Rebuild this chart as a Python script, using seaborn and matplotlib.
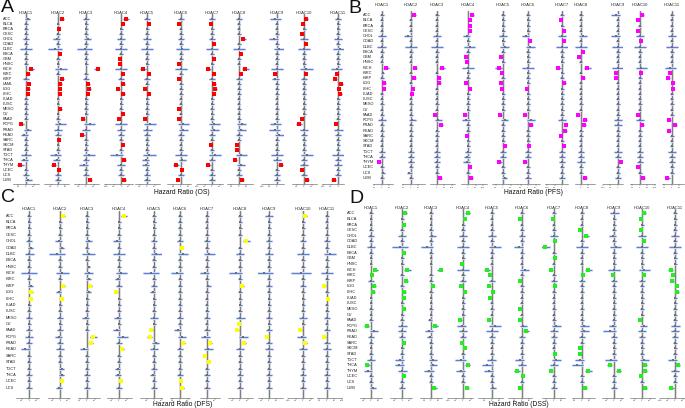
import numpy as np
import pandas as pd
import matplotlib
matplotlib.use("Agg")
import matplotlib.pyplot as plt
import seaborn as sns
from matplotlib.transforms import blended_transform_factory
from matplotlib.ticker import NullLocator

GENES = ["HDAC1", "HDAC2", "HDAC3", "HDAC4", "HDAC5", "HDAC6",
         "HDAC7", "HDAC8", "HDAC9", "HDAC10", "HDAC11"]

CANCERS_OS = ["ACC", "BLCA", "BRCA", "CESC", "CHOL", "COAD", "DLBC", "ESCA", "GBM", "HNSC",
              "KICH", "KIRC", "KIRP", "LAML", "LGG", "LIHC", "LUAD", "LUSC", "MESO", "OV",
              "PAAD", "PCPG", "PRAD", "READ", "SARC", "SKCM", "STAD", "TGCT", "THCA", "THYM",
              "UCEC", "UCS", "UVM"]
CANCERS_PFS = ["ACC", "BLCA", "BRCA", "CESC", "CHOL", "COAD", "DLBC", "ESCA", "GBM", "HNSC",
               "KICH", "KIRC", "KIRP", "LGG", "LIHC", "LUAD", "LUSC", "MESO", "OV", "PAAD",
               "PCPG", "PRAD", "READ", "SARC", "SKCM", "STAD", "TGCT", "THCA", "THYM", "UCEC",
               "UCS", "UVM"]
CANCERS_DFS = ["ACC", "BLCA", "BRCA", "CESC", "CHOL", "COAD", "DLBC", "ESCA", "HNSC", "KICH",
               "KIRC", "KIRP", "LGG", "LIHC", "LUAD", "LUSC", "MESO", "OV", "PAAD", "PCPG",
               "PRAD", "READ", "SARC", "STAD", "TGCT", "THCA", "UCEC", "UCS"]
CANCERS_DSS = ["ACC", "BLCA", "BRCA", "CESC", "CHOL", "COAD", "DLBC", "ESCA", "GBM", "HNSC",
               "KICH", "KIRC", "KIRP", "LGG", "LIHC", "LUAD", "LUSC", "MESO", "OV", "PAAD",
               "PCPG", "PRAD", "READ", "SARC", "SKCM", "STAD", "TGCT", "THCA", "THYM", "UCEC",
               "UCS", "UVM"]

# log10 hazard ratio (one row per gene HDAC1..HDAC11, one value per cancer)
# and half-width of the 95% CI in log10 units
OS_LOGHR = [
    [.2,0,0,0,0,0,0,0,0,0,.7,.3,0,.35,.3,.25,0,0,0,0,0,-.6,.2,-.2,0,0,0,0,-.2,-.75,0,0,.3],
    [.5,0,.2,0,-.2,0,-.4,.25,0,0,.4,0,.5,.3,.25,.22,0,0,.3,0,0,.3,0,0,.2,0,0,-.3,-.2,-.6,.2,0,0],
    [0,0,0,0,.2,0,-.2,0,0,0,1.6,0,0,.3,.4,.25,0,0,0,0,-.4,.5,0,-.5,0,0,0,.4,0,-.3,0,0,.5],
    [.7,.25,0,0,0,0,0,0,-.2,-.2,0,.25,0,.3,-.35,.3,0,0,0,.2,-.3,0,0,0,0,.2,0,-.6,.4,0,0,0,.4],
    [0,.2,0,0,0,0,0,0,0,0,-.6,.2,0,0,-.3,.2,0,0,0,0,-.3,.4,0,0,0,0,0,.3,-.2,-.2,0,0,0],
    [0,-.2,0,0,0,0,.2,0,0,-.2,0,0,-.25,0,0,0,0,0,-.3,0,-.3,.3,.3,0,0,0,0,0,.2,-.7,.2,0,-.4],
    [0,-.2,0,0,0,.25,0,0,.25,0,-.5,.2,0,.3,.4,.2,0,0,0,0,0,.3,.3,0,0,-.2,0,.4,0,-.5,0,0,0],
    [0,0,0,0,.6,0,0,.25,0,0,.85,.25,0,0,0,0,0,0,0,0,0,.4,.3,0,0,-.2,-.2,.3,-.5,.3,0,0,.4],
    [-.2,0,0,0,-.4,0,.3,0,0,0,0,-.2,-.2,0,0,0,0,0,0,0,0,-.2,-.3,.3,0,0,0,0,0,.5,0,0,0],
    [.3,-.2,0,-.3,0,.2,0,0,0,0,.3,.2,0,0,0,0,0,0,0,0,-.3,-.7,0,0,0,0,0,.4,0,0,-.25,0,.4],
    [0,0,0,0,0,0,.2,0,0,0,-.2,-.15,-.4,.4,.15,.3,0,0,0,0,0,-.3,0,0,0,0,0,0,0,0,0,0,-.6],
]
OS_CI = [
    [.35,.2,.2,.25,.45,.28,.75,.28,.25,.2,.4,.18,.45,.2,.18,.15,.2,.2,.3,.2,.28,.35,.5,.4,.28,.2,.25,.6,.4,.45,.3,.35,.45],
    [.3,.2,.12,.25,.5,.28,.95,.15,.25,.2,.75,.25,.3,.18,.15,.13,.2,.2,.18,.2,.28,.75,.6,.4,.12,.2,.25,.75,.45,.35,.12,.35,.4],
    [.4,.2,.2,.25,.5,.28,.95,.28,.25,.2,.6,.25,.4,.18,.25,.15,.2,.2,.3,.2,.25,.75,.5,.3,.28,.2,.25,.75,.4,.6,.28,.35,.3],
    [.4,.15,.2,.25,.5,.28,.85,.28,.12,.12,.75,.15,.45,.18,.2,.18,.2,.2,.3,.12,.18,.75,.5,.4,.28,.12,.25,.85,.25,.5,.28,.35,.25],
    [.4,.12,.2,.25,.5,.28,.85,.28,.25,.2,.4,.12,.4,.28,.18,.12,.2,.2,.3,.2,.18,.75,.6,.4,.28,.2,.25,.85,.5,.5,.28,.35,.4],
    [.35,.12,.2,.25,.45,.28,.85,.28,.25,.12,.85,.25,.15,.28,.25,.22,.2,.2,.18,.2,.18,.75,.6,.4,.28,.2,.25,.75,.45,.4,.12,.35,.25],
    [.35,.12,.2,.25,.45,.15,.85,.28,.15,.2,.3,.12,.4,.18,.25,.12,.2,.2,.3,.2,.28,.75,.6,.4,.28,.12,.25,.75,.4,.3,.28,.35,.4],
    [.35,.2,.2,.25,.35,.28,.75,.15,.25,.2,.45,.15,.4,.28,.25,.22,.2,.2,.3,.2,.28,.6,.6,.4,.28,.12,.12,.75,.3,.5,.28,.35,.25],
    [.75,.2,.2,.25,.6,.28,.75,.28,.25,.2,.75,.12,.45,.28,.25,.22,.2,.2,.3,.2,.28,.75,.75,.6,.28,.2,.25,.75,.5,.3,.28,.35,.4],
    [.18,.12,.2,.18,.5,.12,.75,.28,.25,.2,.85,.12,.4,.28,.25,.22,.2,.2,.3,.2,.18,.4,.5,.4,.28,.2,.25,.75,.45,.5,.15,.35,.25],
    [.35,.2,.2,.25,.5,.28,.85,.28,.25,.2,.75,.1,.25,.25,.1,.18,.2,.2,.3,.2,.28,.18,.6,.4,.28,.2,.25,.75,.45,.5,.28,.35,.35],
]

PFS_LOGHR = [
    [0,0,0,0,0,0,0,0,0,0,.6,.12,0,.3,.25,0,0,0,0,0,0,0,0,0,0,0,0,0,-.4,0,.12,0],
    [.4,0,0,0,-.4,0,0,0,0,0,.5,0,.4,0,.25,.2,0,0,0,0,.2,0,0,0,0,0,0,0,0,0,-.2,0],
    [0,0,0,0,0,0,0,0,0,0,.7,0,.3,.3,0,0,0,0,0,-.3,.2,.5,0,0,0,0,0,0,0,0,0,.4],
    [.5,.2,.2,.2,-.2,0,.2,0,-.25,-.2,0,0,0,-.3,.2,0,0,0,0,-.4,-.3,0,0,-.2,0,0,0,-.2,-.2,.2,0,.4],
    [0,0,0,0,0,0,.2,0,-.25,0,-.6,-.2,0,-.3,-.2,0,0,0,0,-.4,.2,0,0,0,0,.2,0,0,-.5,0,0,.2],
    [0,0,0,0,-.3,.22,.3,0,0,0,0,0,0,0,-.15,0,0,0,0,-.35,.4,.4,0,0,0,.15,0,0,-.4,0,0,0],
    [0,-.2,0,.25,0,.25,0,0,0,0,-.5,0,0,.3,0,0,0,0,0,0,0,.5,.4,-.2,0,.2,0,0,0,0,0,0],
    [0,0,0,0,.3,0,0,.25,-.3,0,.85,0,.3,0,0,0,0,0,0,-.4,.5,.4,0,0,0,0,0,0,0,0,0,.5],
    [-.3,0,0,0,-.3,0,0,0,0,0,0,-.2,-.3,0,0,0,0,0,0,0,0,0,0,0,0,0,0,0,.4,0,0,0],
    [.3,-.2,0,-.2,0,.2,0,0,0,0,.2,.2,0,0,0,0,0,0,0,-.3,0,.3,0,0,0,0,0,0,0,-.2,0,.4],
    [0,0,0,0,0,0,0,0,0,0,-.2,-.3,-.5,.2,.2,0,0,0,0,0,-.4,.4,-.4,0,0,0,0,0,0,0,0,-.6],
]
PFS_CI = [
    [.28,.2,.2,.2,.5,.2,.6,.22,.2,.2,.4,.2,.3,.18,.15,.2,.2,.25,.2,.25,.5,.28,.3,.22,.2,.2,.35,.35,.25,.22,.3,.3],
    [.25,.2,.2,.2,.55,.2,.75,.22,.2,.2,.35,.2,.25,.2,.15,.12,.2,.25,.2,.25,.5,.28,.3,.22,.2,.2,.4,.4,.45,.22,.3,.3],
    [.3,.2,.2,.2,.5,.2,.75,.22,.2,.2,.4,.2,.18,.18,.2,.2,.2,.25,.2,.18,.5,.3,.3,.22,.2,.2,.35,.4,.45,.22,.28,.25],
    [.3,.12,.12,.12,.5,.2,.75,.22,.15,.12,.85,.2,.3,.18,.12,.2,.2,.25,.2,.25,.5,.28,.3,.12,.2,.2,.4,.4,.45,.12,.28,.25],
    [.3,.2,.2,.2,.5,.2,.6,.22,.15,.2,.45,.12,.3,.18,.12,.2,.2,.25,.2,.25,.5,.28,.3,.22,.2,.12,.4,.35,.3,.22,.28,.35],
    [.3,.2,.2,.2,.45,.13,.6,.22,.2,.2,.75,.2,.3,.2,.1,.2,.2,.25,.2,.2,.5,.25,.3,.22,.2,.1,.35,.4,.25,.22,.28,.35],
    [.3,.12,.2,.15,.5,.15,.75,.22,.2,.2,.35,.2,.3,.18,.2,.2,.2,.25,.2,.25,.5,.3,.25,.12,.2,.12,.35,.35,.45,.22,.28,.35],
    [.3,.2,.2,.2,.55,.2,.75,.15,.18,.2,.5,.2,.18,.2,.2,.2,.2,.25,.2,.25,.3,.25,.3,.22,.2,.2,.35,.35,.5,.22,.28,.3],
    [.6,.2,.2,.2,.6,.2,.75,.22,.2,.2,.75,.12,.18,.2,.2,.2,.2,.25,.2,.25,.5,.55,.3,.22,.2,.2,.5,.35,.25,.22,.28,.35],
    [.18,.12,.2,.12,.5,.12,.75,.22,.2,.2,.75,.12,.3,.2,.2,.2,.2,.25,.2,.18,.5,.18,.3,.22,.2,.2,.35,.35,.45,.12,.28,.25],
    [.3,.2,.2,.2,.55,.2,.85,.22,.2,.2,.75,.18,.3,.12,.12,.2,.2,.25,.2,.25,.25,.25,.25,.22,.2,.2,.5,.35,.45,.22,.28,.35],
]

DFS_LOGHR = [
    [0,0,0,0,0,.2,0,0,0,0,0,.2,.3,.2,0,0,0,0,0,0,0,-.5,0,0,0,0,0,0],
    [.4,0,0,0,-.2,.2,-.4,0,0,.3,0,.4,-.2,.2,0,0,0,0,0,-.2,0,0,0,0,.2,.2,.2,-.2],
    [0,0,0,0,.2,0,.2,0,.2,.2,.2,.4,.2,0,0,0,-.2,0,0,.85,.5,-.4,0,0,0,0,0,0],
    [.7,0,0,0,-.3,0,0,0,0,.3,-.2,0,-.4,0,0,0,-.2,0,-.3,.5,0,.4,0,0,-.2,-.2,.2,0],
    [0,0,0,0,0,0,.3,0,0,-.4,0,0,-.2,0,0,0,0,0,-.4,-.6,.2,0,0,0,0,-.2,0,0],
    [0,0,0,0,0,.2,.4,0,0,-.4,0,0,0,0,0,0,0,0,-.3,.3,.4,0,0,0,0,0,.12,.3],
    [0,0,0,0,0,0,.3,0,0,-.3,0,.2,0,0,0,0,0,0,0,-.2,.4,.2,-.2,.25,0,0,0,0],
    [0,0,0,0,.85,0,0,0,0,-.6,0,.3,0,0,0,0,0,-.2,-.4,.4,.5,0,0,0,0,0,0,0],
    [0,0,0,0,0,0,0,0,0,-.7,0,0,0,0,0,0,0,0,0,-.3,0,0,0,0,0,0,0,0],
    [.3,0,0,0,0,0,0,0,0,-.3,0,0,0,0,0,0,0,0,-.4,-.2,.3,0,0,0,0,0,0,0],
    [0,0,0,0,0,0,.4,0,0,0,0,-.4,0,.2,0,0,0,0,0,-.4,0,0,0,0,0,0,0,0],
]
DFS_CI = [
    [.3,.2,.2,.25,.4,.3,.6,.28,.25,1.05,.28,.35,.18,.12,.2,.25,.4,.2,.35,.5,.35,.6,.28,.25,.3,.35,.28,.4],
    [.25,.2,.2,.25,.5,.3,1.05,.28,.25,.85,.28,.25,.28,.12,.2,.25,.4,.2,.35,.5,.35,.5,.28,.25,.35,.35,.12,.4],
    [.3,.2,.2,.25,.45,.3,.85,.28,.25,.6,.3,.25,.3,.2,.2,.25,.5,.2,.3,.5,.3,.55,.28,.25,.3,.35,.28,.35],
    [.4,.2,.2,.25,.5,.3,.75,.28,.25,.75,.35,.35,.25,.2,.2,.25,.45,.2,.45,.75,.35,.25,.28,.25,.3,.4,.12,.35],
    [.3,.2,.2,.25,.4,.3,.75,.28,.25,1.05,.28,.35,.35,.2,.2,.25,.5,.2,.25,.35,.5,.5,.28,.25,.35,.35,.28,.35],
    [.3,.2,.2,.25,.4,.12,.6,.28,.25,.85,.28,.3,.25,.2,.2,.25,.4,.2,.45,.5,.25,.45,.28,.25,.3,.35,.08,.18],
    [.3,.2,.2,.25,.4,.3,.75,.28,.25,.6,.28,.35,.28,.2,.2,.25,.4,.2,.35,.55,.25,.55,.12,.15,.3,.35,.28,.35],
    [.3,.2,.2,.25,.45,.3,.5,.28,.25,.85,.28,.18,.28,.2,.2,.25,.6,.12,.25,.6,.3,.5,.28,.25,.3,.35,.28,.35],
    [.5,.2,.2,.25,.4,.3,.5,.28,.25,1.3,.28,.35,.28,.2,.2,.25,.4,.2,.35,.2,.35,.6,.28,.25,.3,.35,.28,.35],
    [.18,.2,.2,.25,.4,.3,.75,.28,.25,1.3,.28,.35,.28,.2,.2,.25,.5,.2,.25,.55,.18,.5,.28,.25,.3,.35,.28,.35],
    [.3,.2,.2,.25,.4,.3,.75,.28,.25,.85,.28,.25,.28,.12,.2,.25,.4,.2,.35,.25,.35,.5,.28,.25,.3,.35,.28,.35],
]

DSS_LOGHR = [
    [0,0,0,0,0,0,0,0,0,0,.6,.2,0,.4,.3,0,0,0,0,0,-.6,.4,0,0,0,0,0,-.5,-.4,0,0,.3],
    [.4,0,.2,0,0,0,-.3,.2,0,0,.7,0,.5,0,.3,.2,0,.2,0,0,0,0,0,.2,0,0,-.3,-.4,0,.2,0,0],
    [0,0,0,0,.2,0,-.6,0,0,0,1.4,0,0,.3,0,0,0,0,0,-.2,.6,-.3,-.2,0,0,0,.3,.3,-.3,0,0,.5],
    [.6,.2,0,0,0,0,0,0,0,-.2,0,0,0,-.3,.2,0,0,0,0,-.4,-.2,0,0,-.2,.2,0,-.3,.6,-.3,0,0,.5],
    [0,0,0,0,0,0,.4,0,0,0,-.6,-.3,0,-.4,.2,-.2,0,0,0,-.4,.4,0,0,0,0,0,0,-.6,-.4,0,0,.2],
    [0,-.2,0,0,0,0,-.4,0,0,0,.4,0,-.3,0,0,0,0,-.25,0,-.3,.2,.6,0,0,0,0,-.3,0,-.6,.2,0,-.2],
    [0,-.15,0,0,0,.2,-1.2,0,.15,0,-.4,0,0,.2,0,0,0,0,0,0,.3,0,0,0,0,.2,.3,0,-.4,0,0,0],
    [0,0,0,-.2,.6,0,0,0,0,0,.85,.2,0,0,0,0,0,0,0,0,.3,.3,0,0,-.2,-.2,-.3,-.6,.85,0,0,.4],
    [0,0,0,0,-.2,0,.2,0,0,0,0,-.2,0,0,0,0,0,0,0,0,-.2,-.6,0,0,0,0,-.4,-.6,.6,0,0,0],
    [.3,-.2,0,-.2,0,.2,0,0,0,0,.3,.2,0,0,0,0,0,0,0,-.3,.2,0,0,0,0,0,.3,.4,.4,-.2,0,.4],
    [0,0,0,0,0,0,0,0,0,0,-.6,-.3,-.4,.2,.3,0,0,0,0,0,0,0,0,0,0,0,-.3,.4,0,0,0,-.5],
]
DSS_CI = [
    [.3,.2,.2,.25,.45,.28,.6,.28,.2,.2,.35,.12,.35,.25,.18,.2,.2,.28,.2,.28,.35,.6,.35,.25,.2,.22,.6,.3,.6,.25,.3,.4],
    [.25,.2,.12,.25,.5,.28,1.05,.12,.2,.2,.45,.22,.3,.25,.18,.12,.2,.12,.2,.28,.6,.5,.35,.12,.2,.22,.6,.6,.6,.12,.3,.35],
    [.3,.2,.2,.25,.5,.28,.85,.28,.2,.2,.6,.22,.35,.18,.25,.2,.2,.28,.2,.28,.4,.6,.4,.25,.2,.22,.6,.5,.75,.25,.3,.3],
    [.35,.12,.2,.25,.5,.28,.85,.28,.2,.12,.75,.22,.35,.18,.12,.2,.2,.28,.2,.25,.6,.5,.35,.12,.12,.22,.75,.35,.6,.25,.3,.3],
    [.3,.2,.2,.25,.5,.28,.75,.28,.2,.2,.4,.18,.35,.25,.12,.12,.2,.28,.2,.25,.75,.85,.35,.25,.2,.22,.6,.75,.6,.25,.3,.4],
    [.3,.12,.2,.25,.4,.28,.6,.28,.2,.2,.6,.22,.18,.25,.25,.2,.2,.15,.2,.18,.5,.4,.35,.25,.2,.22,.6,.5,.4,.12,.3,.12],
    [.3,.1,.2,.25,.5,.12,.7,.28,.1,.2,.25,.22,.35,.12,.25,.2,.2,.28,.2,.28,.6,.5,.35,.25,.2,.12,.6,.5,.25,.25,.3,.35],
    [.3,.2,.2,.12,.4,.28,.75,.28,.2,.2,.45,.12,.35,.25,.25,.2,.2,.28,.2,.28,.6,.6,.35,.25,.12,.12,.6,.75,.45,.25,.3,.25],
    [.6,.2,.2,.25,.5,.28,.75,.28,.2,.2,.75,.12,.4,.25,.25,.2,.2,.28,.2,.28,.5,.85,.35,.25,.2,.22,.75,.35,.35,.25,.3,.35],
    [.18,.12,.2,.12,.5,.12,.75,.28,.2,.2,.75,.12,.35,.25,.25,.2,.2,.28,.2,.18,.5,.5,.35,.25,.2,.22,.6,.25,.25,.12,.3,.25],
    [.3,.2,.2,.25,.55,.28,.75,.28,.2,.2,.35,.18,.25,.12,.18,.2,.2,.28,.2,.28,.6,.5,.35,.25,.2,.22,.6,.25,.5,.25,.3,.3],
]

# ---------------------------------------------------------------- styling
sns.set_theme(style="white")
plt.rcParams["font.family"] = ["Liberation Sans", "DejaVu Sans"]

W, H = 685, 408
fig = plt.figure(figsize=(W / 100, H / 100), dpi=100)
fig.patch.set_facecolor("white")

CI_COLOR = "#5a7ddc"
CI_HALO = "#cdd9f6"
NS_COLOR = "#6e6e6e"
REF_COLOR = "#808080"
REF_BAND = "#ebebeb"

PANELS = [
    dict(letter="A", letter_xy=(1, -1), cancers=CANCERS_OS, hr=OS_LOGHR, ci=OS_CI,
         color="#ff0000", xlabel="Hazard Ratio (OS)", xlabel_xy=(182, 193),
         lefts=[13, 44, 74, 104, 135, 167, 197, 227, 262, 292, 322],
         widths=[26, 25, 25, 29, 25, 24, 26, 26, 22, 25, 22],
         xlims=[(-1.73, 1.73), (-1.87, 1.47), (-1.6, 1.73), (-2.28, 1.59), (-1.6, 1.73),
                (-1.86, 1.34), (-2.01, 1.46), (-1.6, 1.87), (-2.0, 0.94), (-1.6, 1.73),
                (-2.14, 0.79)],
         row0=18.5, rowN=180, axis_y=184, title_y=12.5, name_x=3),
    dict(letter="B", letter_xy=(348, 0), cancers=CANCERS_PFS, hr=PFS_LOGHR, ci=PFS_CI,
         color="#ff00ff", xlabel="Hazard Ratio (PFS)", xlabel_xy=(533, 193),
         lefts=[373, 402, 430, 461, 492, 517, 545, 575, 603, 630, 662],
         widths=[20, 23, 25, 26, 25, 23, 23, 20, 20, 25, 22],
         xlims=[(-1.2, 1.47), (-1.2, 1.87), (-0.93, 2.4), (-0.94, 2.53), (-1.47, 1.86),
                (-1.47, 1.6), (-2.27, 0.8), (-0.8, 1.87), (-2.0, 0.67), (-1.33, 2.0),
                (-1.32, 1.61)],
         row0=15, rowN=178, axis_y=184.5, title_y=5.5, name_x=363),
    dict(letter="C", letter_xy=(1, 189), cancers=CANCERS_DFS, hr=DFS_LOGHR, ci=DFS_CI,
         color="#ffff00", xlabel="Hazard Ratio (DFS)", xlabel_xy=(183, 404),
         lefts=[16, 48, 78, 107, 140, 170, 200, 228, 258, 288, 317],
         widths=[23, 22, 22, 25, 22, 20, 20, 25, 25, 25, 25],
         xlims=[(-1.75, 1.32), (-1.61, 1.32), (-1.2, 1.73), (-1.6, 1.73), (-1.88, 1.05),
                (-1.33, 1.33), (-0.93, 1.73), (-1.6, 1.73), (-1.47, 1.87), (-2.0, 1.33),
                (-1.33, 2.0)],
         row0=215.7, rowN=387.7, axis_y=397.7, title_y=209, name_x=6),
    dict(letter="D", letter_xy=(349, 190), cancers=CANCERS_DSS, hr=DSS_LOGHR, ci=DSS_CI,
         color="#22ee22", xlabel="Hazard Ratio (DSS)", xlabel_xy=(519, 404),
         lefts=[360, 390, 420, 448, 478, 508, 542, 572, 602, 630, 660],
         widths=[22, 22, 22, 25, 25, 24, 23, 23, 21, 25, 25],
         xlims=[(-1.47, 1.47), (-1.61, 1.32), (-1.6, 1.6), (-2.0, 1.33), (-1.86, 1.47),
                (-1.86, 1.34), (-1.6, 1.47), (-1.32, 1.75), (-1.6, 1.2), (-1.6, 1.73),
                (-2.0, 1.33)],
         row0=213.3, rowN=387.7, axis_y=397.7, title_y=207.7, name_x=347),
]


def tick_label(k):
    v = 10.0 ** k
    if v >= 1:
        return f"{int(round(v))}"
    return f"{v:.{-k}f}"


for P in PANELS:
    cancers = P["cancers"]
    n = len(cancers)
    step = (P["rowN"] - P["row0"]) / (n - 1)
    top_px = P["row0"] - 0.8 * step
    bottom_pad = (P["axis_y"] - P["rowN"]) / step
    y_bottom, y_top = n - 1 + bottom_pad, -0.8
    first_ax = None
    for j, gene in enumerate(GENES):
        left, width = P["lefts"][j], P["widths"][j]
        ax = fig.add_axes([left / W, 1 - P["axis_y"] / H, width / W,
                           (P["axis_y"] - top_px) / H])
        ax.set_facecolor("none")
        lg = np.array(P["hr"][j], dtype=float)
        w = np.array(P["ci"][j], dtype=float)
        df = pd.DataFrame({
            "row": np.arange(n),
            "hr": 10.0 ** lg,
            "lo": 10.0 ** (lg - w),
            "hi": 10.0 ** (lg + w),
        })
        df["sig"] = (df["lo"] > 1) | (df["hi"] < 1)
        ax.set_xscale("log")
        lo, hi = P["xlims"][j]
        ax.set_xlim(10.0 ** lo, 10.0 ** hi)
        ax.set_ylim(y_bottom, y_top)
        # reference line at HR = 1 (pale band + darker core)
        ax.axvline(1, color=REF_BAND, lw=2.0, zorder=1.2)
        ax.axvline(1, color=REF_COLOR, lw=0.95, zorder=1.5)
        # confidence intervals
        ax.hlines(df["row"], df["lo"], df["hi"], color=CI_HALO, lw=2.0, zorder=2)
        ax.hlines(df["row"], df["lo"], df["hi"], color=CI_COLOR, lw=0.7, zorder=2.2)
        sns.scatterplot(data=df[~df["sig"]], x="hr", y="row", color=NS_COLOR,
                        marker="s", s=3.0, linewidth=0, ax=ax, zorder=3, legend=False)
        if df["sig"].any():
            sns.scatterplot(data=df[df["sig"]], x="hr", y="row", color=P["color"],
                            marker="s", s=6.5, linewidth=0, ax=ax, zorder=4, legend=False)
        ax.set_xlim(10.0 ** lo, 10.0 ** hi)
        ax.set_ylim(y_bottom, y_top)
        ks = [k for k in range(int(np.floor(lo)), int(np.ceil(hi)) + 1)
              if lo - 1e-9 <= k <= hi + 1e-9]
        ax.set_xticks([10.0 ** k for k in ks])
        ax.set_xticklabels([tick_label(k) for k in ks])
        ax.xaxis.set_minor_locator(NullLocator())
        ax.tick_params(axis="x", length=1.2, width=0.3, labelsize=1.7, pad=0.6,
                       color="#555555", labelcolor="#333333", bottom=True)
        ax.set_yticks([])
        ax.set_xlabel("")
        ax.set_ylabel("")
        ax.grid(False)
        for side in ("left", "top", "right"):
            ax.spines[side].set_visible(False)
        ax.spines["bottom"].set_linewidth(0.4)
        ax.spines["bottom"].set_color("#555555")
        # gene title centred on the HR = 1 line
        tt = blended_transform_factory(ax.transData, fig.transFigure)
        ax.text(1, 1 - P["title_y"] / H, gene, transform=tt, ha="center", va="center",
                fontsize=3.0, color="#222222", clip_on=False)
        if j == 0:
            first_ax = ax
    # cancer names
    nt = blended_transform_factory(fig.transFigure, first_ax.transData)
    for i, c in enumerate(cancers):
        first_ax.text(P["name_x"] / W, i, c, transform=nt, ha="left", va="center",
                      fontsize=2.8, color="#222222", clip_on=False)
    fig.text(P["xlabel_xy"][0] / W, 1 - P["xlabel_xy"][1] / H, P["xlabel"],
             ha="center", va="center", fontsize=4.9, color="#111111")
    fig.text(P["letter_xy"][0] / W, 1 - P["letter_xy"][1] / H, P["letter"],
             ha="left", va="top", fontsize=14, color="#111111")

fig.savefig("out.png", dpi=100, facecolor="white")
